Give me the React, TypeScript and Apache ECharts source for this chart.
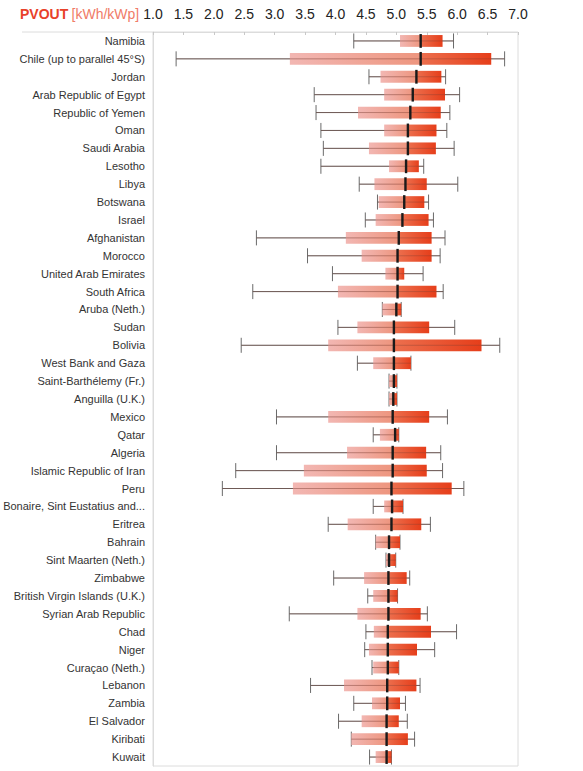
import React, { useEffect, useRef } from "react";
import * as echarts from "echarts";

const countries = [
  "Namibia", "Chile (up to parallel 45°S)", "Jordan", "Arab Republic of Egypt", "Republic of Yemen",
  "Oman", "Saudi Arabia", "Lesotho", "Libya", "Botswana", "Israel", "Afghanistan", "Morocco",
  "United Arab Emirates", "South Africa", "Aruba (Neth.)", "Sudan", "Bolivia", "West Bank and Gaza",
  "Saint-Barthélemy (Fr.)", "Anguilla (U.K.)", "Mexico", "Qatar", "Algeria", "Islamic Republic of Iran",
  "Peru", "Bonaire, Sint Eustatius and...", "Eritrea", "Bahrain", "Sint Maarten (Neth.)", "Zimbabwe",
  "British Virgin Islands (U.K.)", "Syrian Arab Republic", "Chad", "Niger", "Curaçao (Neth.)",
  "Lebanon", "Zambia", "El Salvador", "Kiribati", "Kuwait",
];
const minValues = [4.30, 1.38, 4.55, 3.65, 3.68, 3.76, 3.80, 3.76, 4.39, 4.69, 4.49, 2.70, 3.54, 3.95, 2.64, 4.77, 4.04, 2.45, 4.36, 4.88, 4.88, 3.03, 4.62, 3.03, 2.36, 2.14, 4.62, 3.88, 4.66, 4.83, 3.97, 4.53, 3.24, 4.50, 4.48, 4.60, 3.59, 4.30, 4.05, 4.26, 4.56];
const p10Values = [5.06, 3.25, 4.74, 4.80, 4.37, 4.80, 4.55, 4.88, 4.64, 4.71, 4.66, 4.17, 4.43, 4.82, 4.04, 4.77, 4.36, 3.88, 4.62, 4.88, 4.88, 3.88, 4.73, 4.19, 3.48, 3.30, 4.80, 4.20, 4.66, 4.83, 4.47, 4.62, 4.36, 4.63, 4.55, 4.62, 4.14, 4.60, 4.43, 4.26, 4.66];
const medianValues = [5.40, 5.40, 5.33, 5.27, 5.23, 5.19, 5.19, 5.16, 5.15, 5.13, 5.10, 5.04, 5.02, 5.02, 5.02, 5.00, 4.96, 4.96, 4.96, 4.96, 4.95, 4.94, 4.98, 4.94, 4.94, 4.92, 4.93, 4.92, 4.88, 4.88, 4.87, 4.87, 4.87, 4.86, 4.86, 4.86, 4.85, 4.85, 4.84, 4.84, 4.84];
const p90Values = [5.76, 6.56, 5.74, 5.80, 5.73, 5.66, 5.65, 5.37, 5.50, 5.46, 5.53, 5.58, 5.58, 5.13, 5.66, 5.08, 5.54, 6.40, 5.24, 5.01, 5.01, 5.54, 5.04, 5.49, 5.50, 5.91, 5.11, 5.41, 5.06, 4.99, 5.17, 5.02, 5.40, 5.57, 5.34, 5.04, 5.33, 5.06, 5.04, 5.19, 4.92];
const maxValues = [5.94, 6.78, 5.81, 6.04, 5.88, 5.83, 5.95, 5.45, 6.01, 5.53, 5.61, 5.80, 5.72, 5.44, 5.77, 5.08, 5.96, 6.70, 5.24, 5.01, 5.01, 5.84, 5.04, 5.73, 5.76, 6.11, 5.11, 5.56, 5.06, 4.99, 5.22, 5.02, 5.51, 5.99, 5.63, 5.04, 5.39, 5.15, 5.18, 5.30, 4.92];
const tickValues = ["1.0", "1.5", "2.0", "2.5", "3.0", "3.5", "4.0", "4.5", "5.0", "5.5", "6.0", "6.5", "7.0"];

export default function App() {
  const ref = useRef<HTMLDivElement>(null);
  useEffect(() => {
    if (!ref.current) return;
    const chart = echarts.init(ref.current, null, { renderer: "svg" });
    const data = countries.map((_, i) => [i, minValues[i], p10Values[i], medianValues[i], p90Values[i], maxValues[i]]);
    const renderItem = (params: any, api: any) => {
      const idx = api.value(0);
      const vMin = api.value(1), v10 = api.value(2), vMed = api.value(3), v90 = api.value(4), vMax = api.value(5);
      const pMin = api.coord([vMin, idx]);
      const p10 = api.coord([v10, idx]);
      const pMed = api.coord([vMed, idx]);
      const p90 = api.coord([v90, idx]);
      const pMax = api.coord([vMax, idx]);
      const band = api.size([0, 1])[1];
      const h = band * 0.66;
      const y = pMed[1];
      const capH = band * 0.42;
      const children: any[] = [
        { type: "line", shape: { x1: pMin[0], y1: y, x2: pMax[0], y2: y }, style: { stroke: "#6a6a6a", lineWidth: 1 } },
        { type: "line", shape: { x1: pMin[0], y1: y - capH, x2: pMin[0], y2: y + capH }, style: { stroke: "#6a6a6a", lineWidth: 1 } },
        { type: "line", shape: { x1: pMax[0], y1: y - capH, x2: pMax[0], y2: y + capH }, style: { stroke: "#6a6a6a", lineWidth: 1 } },
        {
          type: "rect",
          shape: { x: p10[0], y: y - h / 2, width: Math.max(pMed[0] - p10[0], 0.5), height: h },
          style: {
            fill: new echarts.graphic.LinearGradient(0, 0, 1, 0, [
              { offset: 0, color: "rgba(240,170,165,0.85)" },
              { offset: 1, color: "rgba(236,140,115,0.92)" },
            ]),
          },
        },
        {
          type: "rect",
          shape: { x: pMed[0], y: y - h / 2, width: Math.max(p90[0] - pMed[0], 0.5), height: h },
          style: {
            fill: new echarts.graphic.LinearGradient(0, 0, 1, 0, [
              { offset: 0, color: "#ec6f4e" },
              { offset: 1, color: "#e63e1a" },
            ]),
          },
        },
        { type: "line", shape: { x1: pMin[0], y1: y, x2: pMax[0], y2: y }, style: { stroke: "rgba(120,60,50,0.35)", lineWidth: 1 } },
        { type: "rect", shape: { x: pMed[0] - 1.2, y: y - h / 2 - 1, width: 2.4, height: h + 2 }, style: { fill: "#1a1a1a" } },
      ];
      return { type: "group", children };
    };
    chart.setOption({
      animation: false,
      backgroundColor: "#ffffff",
      grid: { left: 153, top: 32, width: 365, height: 734, show: true, borderColor: "#dcdcdc", borderWidth: 1 },
      graphic: [
        { type: "line", shape: { x1: 22, y1: 32, x2: 153, y2: 32 }, style: { stroke: "#dcdcdc", lineWidth: 1 } },
        {
          type: "text", left: 20, top: 7,
          style: {
            text: "{a|PVOUT} {b|[kWh/kWp]}",
            rich: {
              a: { fill: "#e8412a", fontSize: 14, fontFamily: "Liberation Sans Narrow, Liberation Sans", fontWeight: "bold" },
              b: { fill: "#f07b68", fontSize: 14, fontFamily: "Liberation Sans Narrow, Liberation Sans" },
            },
          },
        },
      ],
      xAxis: {
        type: "value", position: "top", min: 1, max: 7, interval: 0.5,
        axisLine: { show: true, lineStyle: { color: "#dcdcdc" } },
        axisTick: { show: true, inside: true, length: 3, lineStyle: { color: "#c8c8c8" } },
        splitLine: { show: false },
        axisLabel: {
          formatter: (v: number) => tickValues[Math.round((v - 1) / 0.5)] ?? "",
          fontSize: 14, color: "#222", margin: 11, fontFamily: "Liberation Sans",
        },
      },
      yAxis: {
        type: "category", data: countries, inverse: true,
        axisLine: { show: true, lineStyle: { color: "#dcdcdc" } },
        axisTick: { show: false },
        axisLabel: { fontSize: 11, color: "#333", margin: 8, fontFamily: "Liberation Sans", interval: 0 },
      },
      series: [{ type: "custom", renderItem, data, encode: { x: [1, 2, 3, 4, 5], y: 0 }, clip: false }],
    });
    return () => chart.dispose();
  }, []);
  return <div ref={ref} style={{ position: "fixed", left: 0, top: 0, width: 583, height: 771 }} />;
}
